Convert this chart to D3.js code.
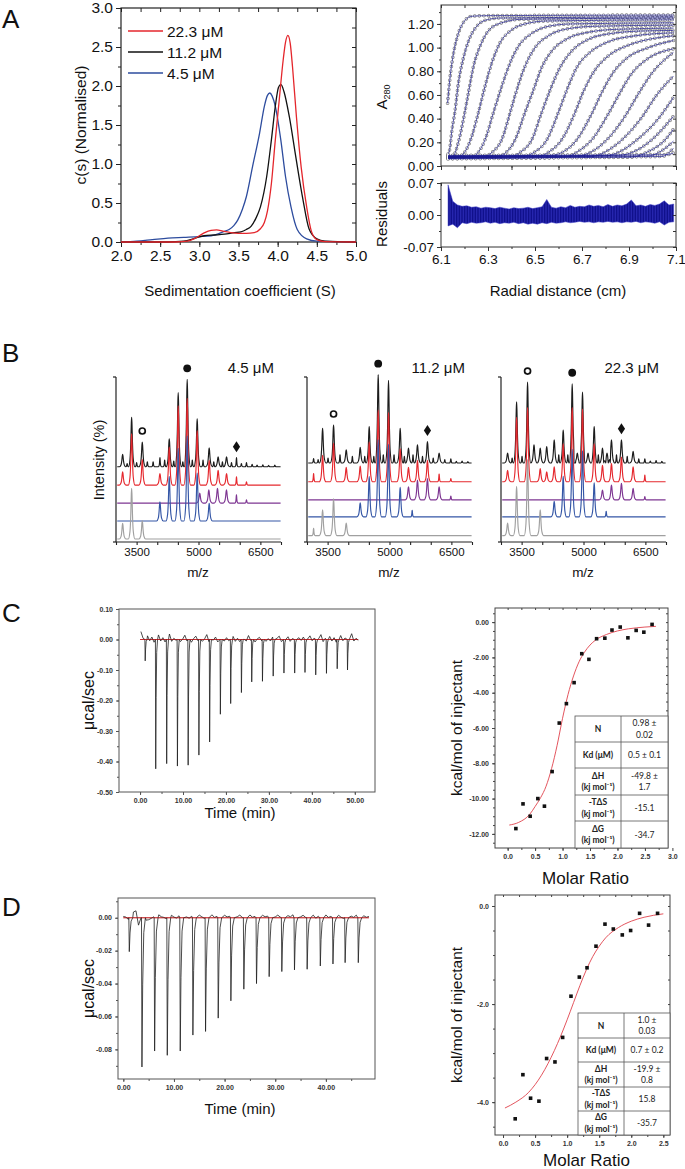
<!DOCTYPE html>
<html>
<head>
<meta charset="utf-8">
<script src="https://cdn.jsdelivr.net/npm/d3@7/dist/d3.min.js"></script>
<style>
  body { margin: 0; background: #fff; }
  svg { display: block; }
</style>
</head>
<body>
<div id="fig"></div>
<script>
const WIDTH = 685;
const HEIGHT = 1169;
const FONT = "'Liberation Sans', Arial, Helvetica, sans-serif";
const TABLE_FONT = "Lato, 'Open Sans', sans-serif";

// ---------- A: c(s) distributions [s, c(s)] ----------
const csLabels = ["22.3 μM", "11.2 μM", "4.5 μM"];
const cs22 = [[2.0,0],[2.7,0],[2.85,0.01],[2.95,0.05],[3.05,0.11],[3.15,0.15],[3.22,0.155],[3.3,0.14],[3.4,0.12],[3.5,0.11],[3.6,0.11],[3.7,0.12],[3.78,0.17],[3.83,0.25],[3.87,0.4],[3.92,0.75],[3.97,1.31],[4.02,1.82],[4.07,2.33],[4.1,2.56],[4.13,2.65],[4.16,2.55],[4.19,2.24],[4.24,1.6],[4.3,0.96],[4.37,0.45],[4.43,0.14],[4.5,0.03],[4.6,0.005],[5.0,0]];
const cs11 = [[2.0,0],[2.6,0],[2.8,0.01],[2.95,0.05],[3.06,0.08],[3.2,0.09],[3.32,0.1],[3.45,0.12],[3.53,0.13],[3.6,0.16],[3.66,0.2],[3.72,0.3],[3.78,0.45],[3.86,0.84],[3.92,1.31],[3.97,1.74],[4.01,1.98],[4.04,2.02],[4.08,1.93],[4.15,1.6],[4.23,1.1],[4.32,0.56],[4.4,0.17],[4.5,0.04],[4.6,0.01],[5.0,0]];
const cs4 = [[2.0,0],[2.2,0.01],[2.4,0.03],[2.6,0.05],[2.8,0.06],[3.0,0.07],[3.15,0.08],[3.23,0.1],[3.3,0.13],[3.38,0.16],[3.44,0.21],[3.49,0.28],[3.55,0.42],[3.6,0.58],[3.68,0.97],[3.77,1.4],[3.83,1.74],[3.87,1.88],[3.9,1.91],[3.93,1.87],[3.97,1.74],[4.04,1.31],[4.1,0.84],[4.17,0.45],[4.25,0.16],[4.37,0.04],[4.5,0.01],[5.0,0]];
const csXTicks = [2.0, 2.5, 3.0, 3.5, 4.0, 4.5, 5.0];
const csYTicks = [0, 0.5, 1.0, 1.5, 2.0, 2.5, 3.0];

// ---------- A: absorbance scans [r (cm), A280] ----------
const scans = [
  [[6.128,0.53],[6.138,0.74],[6.153,0.95],[6.174,1.12],[6.202,1.23],[6.231,1.265],[6.3,1.27],[7.09,1.275]],
  [[6.13,0.1],[6.137,0.14],[6.145,0.28],[6.16,0.47],[6.174,0.7],[6.195,0.91],[6.216,1.05],[6.252,1.18],[6.287,1.23],[6.35,1.25],[7.09,1.26]],
  [[6.13,0.07],[6.15,0.08],[6.174,0.2],[6.195,0.39],[6.216,0.61],[6.238,0.84],[6.266,1.01],[6.301,1.14],[6.358,1.21],[6.45,1.24],[7.09,1.25]],
  [[6.13,0.08],[6.18,0.085],[6.205,0.13],[6.231,0.25],[6.259,0.45],[6.287,0.67],[6.316,0.87],[6.351,1.04],[6.401,1.15],[6.457,1.2],[6.55,1.225],[7.09,1.235]],
  [[6.13,0.07],[6.235,0.08],[6.26,0.12],[6.287,0.22],[6.323,0.45],[6.358,0.67],[6.394,0.87],[6.429,1.01],[6.486,1.12],[6.557,1.18],[6.65,1.2],[7.09,1.21]],
  [[6.13,0.075],[6.29,0.085],[6.32,0.12],[6.358,0.22],[6.394,0.45],[6.422,0.64],[6.457,0.84],[6.5,1.0],[6.557,1.1],[6.642,1.16],[6.75,1.18],[7.09,1.19]],
  [[6.13,0.08],[6.345,0.085],[6.38,0.12],[6.415,0.22],[6.457,0.45],[6.493,0.64],[6.528,0.83],[6.571,0.97],[6.642,1.08],[6.727,1.13],[6.85,1.155],[7.09,1.165]],
  [[6.13,0.065],[6.4,0.08],[6.44,0.12],[6.486,0.22],[6.528,0.45],[6.564,0.64],[6.606,0.83],[6.656,0.97],[6.727,1.07],[6.826,1.12],[6.95,1.14],[7.09,1.145]],
  [[6.13,0.075],[6.457,0.085],[6.5,0.12],[6.55,0.22],[6.599,0.45],[6.635,0.64],[6.677,0.83],[6.734,0.96],[6.812,1.05],[6.926,1.1],[7.09,1.125]],
  [[6.13,0.07],[6.514,0.08],[6.56,0.12],[6.613,0.22],[6.67,0.45],[6.706,0.63],[6.755,0.81],[6.812,0.93],[6.897,1.02],[7.011,1.08],[7.09,1.1]],
  [[6.13,0.085],[6.571,0.09],[6.62,0.12],[6.677,0.22],[6.741,0.44],[6.784,0.62],[6.833,0.79],[6.89,0.91],[6.982,1.0],[7.089,1.06]],
  [[6.13,0.06],[6.628,0.075],[6.68,0.12],[6.741,0.22],[6.812,0.44],[6.862,0.62],[6.911,0.78],[6.975,0.9],[7.089,0.99]],
  [[6.13,0.08],[6.684,0.085],[6.74,0.12],[6.805,0.22],[6.883,0.42],[6.94,0.61],[6.996,0.78],[7.089,0.96]],
  [[6.13,0.07],[6.741,0.08],[6.8,0.12],[6.869,0.22],[6.954,0.41],[7.018,0.6],[7.089,0.76]],
  [[6.13,0.075],[6.798,0.085],[6.86,0.12],[6.933,0.22],[7.025,0.4],[7.089,0.58]],
  [[6.13,0.085],[6.855,0.09],[6.92,0.12],[6.996,0.22],[7.089,0.42]],
  [[6.13,0.065],[6.911,0.075],[6.98,0.12],[7.053,0.22],[7.089,0.31]],
  [[6.13,0.08],[6.982,0.085],[7.04,0.13],[7.089,0.21]],
  [[6.13,0.07],[7.039,0.08],[7.089,0.15]],
  [[6.13,0.09],[7.06,0.095],[7.089,0.11]]
];
// residual envelope
const resR = [6.13,6.15,6.17,6.19,6.21,6.23,6.25,6.27,6.29,6.31,6.33,6.35,6.37,6.39,6.41,6.43,6.45,6.47,6.49,6.51,6.53,6.55,6.57,6.59,6.61,6.63,6.65,6.67,6.69,6.71,6.73,6.75,6.77,6.79,6.81,6.83,6.85,6.87,6.89,6.91,6.93,6.95,6.97,6.99,7.01,7.03,7.05,7.07,7.09];
const resHi = [0.066,0.03,0.022,0.019,0.02,0.017,0.018,0.015,0.017,0.016,0.014,0.017,0.015,0.013,0.016,0.014,0.015,0.017,0.014,0.016,0.018,0.034,0.017,0.015,0.018,0.016,0.021,0.017,0.019,0.018,0.022,0.019,0.021,0.018,0.023,0.019,0.022,0.02,0.024,0.033,0.02,0.022,0.019,0.023,0.021,0.024,0.031,0.022,0.024];
const resLo = [-0.024,-0.02,-0.028,-0.017,-0.019,-0.016,-0.018,-0.017,-0.015,-0.018,-0.016,-0.019,-0.017,-0.018,-0.016,-0.019,-0.017,-0.02,-0.018,-0.02,-0.017,-0.019,-0.016,-0.018,-0.017,-0.015,-0.017,-0.016,-0.014,-0.016,-0.015,-0.017,-0.015,-0.016,-0.014,-0.016,-0.015,-0.017,-0.015,-0.016,-0.014,-0.017,-0.015,-0.016,-0.018,-0.015,-0.022,-0.016,-0.015];
const radTicks = [6.1, 6.3, 6.5, 6.7, 6.9, 7.1];
const absTicks = [0, 0.2, 0.4, 0.6, 0.8, 1.0, 1.2];
const resTicks = [-0.07, 0, 0.07];

// ---------- B: native MS, peaks [m/z, height %], one list per concentration ----------
const msConc = ["4.5 μM", "11.2 μM", "22.3 μM"];
const msBlack = [
  [[3161,7.5],[3270,2],[3379,30],[3500,2.5],[3637,15],[3760,3],[3900,3],[4065,5.5],[4180,4],[4291,17],[4400,3.5],[4508,45],[4620,3],[4726,53],[4850,4],[4968,29],[5110,4],[5259,11.5],[5370,3],[5476,6],[5580,3],[5680,6],[5800,2.5],[5921,5.5],[6040,2],[6163,2.5],[6300,1.5],[6420,1],[6560,1.2],[6700,0.8],[6850,1]],
  [[3160,2.6],[3270,2],[3378,21],[3510,3],[3644,23],[3800,5],[3951,8],[4100,4],[4290,9.5],[4400,4],[4508,22],[4620,4],[4726,53.5],[4850,5],[4976,50],[5110,5],[5259,21],[5360,4],[5460,9],[5570,5],[5678,11],[5800,4],[5920,13],[6060,3],[6203,6],[6340,2],[6487,2.5],[6620,1],[6760,1.2],[6900,0.8]],
  [[3160,6],[3270,3],[3378,37],[3510,4],[3644,49],[3800,11],[3951,9],[4108,10],[4290,14],[4400,5],[4508,20],[4620,5],[4726,48],[4850,6],[4976,43],[5110,6],[5259,22],[5360,5],[5460,9],[5570,6],[5678,14],[5800,5],[5920,14],[6060,4],[6203,7],[6340,2.5],[6487,2.5],[6620,1.2],[6760,1.5],[6900,1]]
];
const msRed = [
  [[3161,8],[3379,31],[3637,15.5],[4065,7],[4291,23],[4508,48],[4726,52.5],[4968,33],[5259,15],[5476,9],[5680,7],[5921,5],[6163,2]],
  [[3160,5],[3378,16],[3644,23.3],[3951,8.7],[4290,9.5],[4508,24],[4726,43.5],[4976,42],[5259,20],[5460,8.7],[5678,13],[5920,13],[6203,4.7],[6487,2]],
  [[3160,7],[3378,39],[3644,45],[3951,8],[4108,6],[4290,9],[4508,23],[4726,45],[4976,44],[5259,23],[5460,10],[5678,11],[5920,15],[6203,9],[6487,4]]
];
const msPurple = [
  [[5030,6],[5250,8],[5460,9],[5678,8],[5920,5],[6163,2]],
  [[5460,8],[5678,12],[5920,13],[6203,8],[6487,2.4]],
  [[5460,6],[5678,9],[5920,10],[6203,7],[6487,2]]
];
const msBlue = [
  [[4065,11.7],[4291,27],[4508,44],[4726,51.5],[4968,29],[5259,10.7]],
  [[4290,8.5],[4508,24.5],[4726,46.8],[4976,44],[5259,18],[5550,4]],
  [[4290,9.5],[4508,24.6],[4726,41],[4976,40],[5259,20.6],[5550,3.4]]
];
const msGray = [
  [[3161,9.5],[3379,30.7],[3637,11.1]],
  [[3160,4.4],[3378,15.6],[3644,22.2],[3951,7.5]],
  [[3160,7.5],[3378,29.7],[3644,46],[3951,15.6]]
];
const msMarkers = [["filled", 4726], ["open", 3644], ["diamond", 5920]];
const mzTicks = [3500, 5000, 6500];

// ---------- C: ITC, first titration ----------
const injCTime = [1.2,3.65,6.2,8.7,11.2,13.7,16.2,18.7,21.1,23.6,26.0,28.5,31.0,33.5,36.0,38.4,40.9,43.4,45.9,48.3];
const injCPeak = [-0.07,-0.424,-0.407,-0.415,-0.412,-0.379,-0.336,-0.245,-0.21,-0.174,-0.139,-0.137,-0.12,-0.11,-0.11,-0.108,-0.116,-0.111,-0.096,-0.1];
const noiseC = [0.026,0.004,-0.006,0.012,-0.004,0.008,-0.009,0.003,0.015,-0.005,
  0.006,-0.008,0.002,0.018,-0.006,0.004,-0.003,0.009,-0.007,0.001,
  0.014,-0.005,0.005,-0.009,0.003,0.011,-0.004,0.006,-0.006,0.002,
  0.016,-0.007,0.004,-0.002,0.008,-0.008,0.003,0.012,-0.005,0.006,
  -0.004,0.002,0.010,-0.006,0.004,-0.007,0.009,0.001,-0.005,0.013,
  -0.003,0.005,-0.008,0.002,0.007,-0.004,0.017,-0.006,0.003,-0.005,
  0.008,-0.003,0.004,0.011,-0.007,0.002,-0.004,0.009,-0.006,0.003,
  0.014,-0.005,0.006,-0.003,0.008,-0.008,0.002,0.012,-0.004,0.005,
  -0.006,0.003,0.016,-0.007,0.004,-0.002,0.010,-0.005,0.006,-0.009,
  0.003,0.013,-0.004,0.005,-0.006,0.002,0.019,-0.005,0.004,-0.003];
const molarC = [0.15,0.28,0.41,0.55,0.67,0.81,0.94,1.07,1.21,1.35,1.48,1.62,1.77,1.9,2.05,2.19,2.34,2.48,2.63];
const heatC = [-11.7,-10.3,-11.0,-10.0,-10.43,-8.47,-5.72,-4.62,-3.43,-1.79,-2.11,-0.94,-0.91,-0.45,-0.28,-0.89,-0.47,-0.57,-0.13];
const fitCX = [0.03,0.2,0.4,0.5,0.6,0.7,0.8,0.9,1.0,1.1,1.2,1.3,1.4,1.5,1.6,1.8,2.0,2.2,2.5,2.7];
const fitCY = [-11.5,-11.35,-10.9,-10.45,-9.95,-9.3,-8.3,-7.0,-5.45,-4.1,-3.05,-2.25,-1.7,-1.3,-1.02,-0.7,-0.5,-0.38,-0.28,-0.24];
const tableLabels = [["N"], ["Kd (μM)"], ["ΔH", "(kj mol⁻¹)"], ["-TΔS", "(kj mol⁻¹)"], ["ΔG", "(kj mol⁻¹)"]];
const tableC = [["0.98 ±", "0.02"], ["0.5 ± 0.1"], ["-49.8 ±", "1.7"], ["-15.1"], ["-34.7"]];

// ---------- D: ITC, second titration ----------
const injDTime = [1.18,3.68,6.18,8.68,11.24,13.74,16.24,18.74,21.24,23.8,26.3,28.8,31.3,33.8,36.3,38.9,41.4,43.8,46.4];
const injDPeak = [-0.0206,-0.0907,-0.081,-0.0836,-0.081,-0.0713,-0.0691,-0.061,-0.0505,-0.0434,-0.04,-0.0358,-0.0327,-0.0317,-0.0313,-0.0293,-0.0281,-0.0273,-0.0273];
const noiseD = [0.0008,0.0004,-0.001,-0.0006,0.0035,0.0042,-0.0045,0.0,-0.0008,-0.0015,
  -0.0012,-0.0004,0.0006,0.001,0.0018,0.0006,0.0002,-0.0006,0.0008,0.0015,
  0.0004,-0.0002,0.0012,0.0004,0.0017,0.0005,-0.0003,0.0009,0.0014,0.0003,
  0.0016,0.0006,-0.0004,0.0011,0.0004,0.0018,0.0002,0.0008,0.0013,0.0001,
  0.0015,0.0005,0.0009,0.0003,0.0014,0.0006,0.0016,0.0002,0.001,0.0004,
  0.0017,0.0003,0.0008,0.0012,0.0002,0.0015,0.0006,0.001,0.0003,0.0014,
  0.0005,0.0016,0.0004,0.0009,0.0002,0.0013,0.0006,0.0018,0.0003,0.001,
  0.0005,0.0015,0.0002,0.0011,0.0007,0.0016,-0.0003,0.0009,0.0014,0.0004,
  0.0017,0.0002,0.0008,0.0012,0.0005,0.0015,0.0003,-0.0004,0.0013,0.0006,
  0.001,0.0002,0.0016,0.0004,0.0009,0.0012,0.0003,0.0008];
const molarD = [0.19,0.31,0.43,0.56,0.68,0.81,0.93,1.06,1.19,1.31,1.45,1.59,1.72,1.86,1.99,2.13,2.27,2.41];
const heatD = [-4.34,-3.44,-3.92,-3.98,-3.11,-3.18,-2.68,-1.84,-1.45,-1.26,-0.82,-0.37,-0.47,-0.59,-0.5,-0.15,-0.39,-0.15];
const fitDX = [0.03,0.2,0.4,0.6,0.8,0.9,1.0,1.1,1.2,1.3,1.4,1.5,1.6,1.8,2.0,2.2,2.5];
const fitDY = [-4.12,-4.0,-3.8,-3.45,-2.95,-2.65,-2.32,-1.97,-1.62,-1.3,-1.03,-0.82,-0.65,-0.44,-0.31,-0.23,-0.16];
const tableD = [["1.0 ±", "0.03"], ["0.7 ± 0.2"], ["-19.9 ±", "0.8"], ["15.8"], ["-35.7"]];


const fmt = d3.formatLocale({decimal: ".", thousands: ",", grouping: [3], currency: ["", ""], minus: "-"}).format;
const steps = (a, b, s) => d3.range(a, b + s / 2, s).map(v => +v.toFixed(4));

const svg = d3.select("#fig").append("svg")
  .attr("xmlns", "http://www.w3.org/2000/svg")
  .attr("width", WIDTH)
  .attr("height", HEIGHT)
  .attr("viewBox", `0 0 ${WIDTH} ${HEIGHT}`)
  .style("font-family", FONT);

svg.append("rect").attr("width", WIDTH).attr("height", HEIGHT).attr("fill", "#fff");

function label(g, txt, x, y, size, opts = {}) {
  const t = g.append("text")
    .attr("x", x).attr("y", y)
    .attr("font-size", size)
    .attr("text-anchor", opts.anchor || "middle")
    .attr("fill", opts.fill || "#111")
    .text(txt);
  if (opts.rotate) t.attr("transform", `rotate(-90,${x},${y})`);
  if (opts.weight) t.attr("font-weight", opts.weight);
  if (opts.family) t.attr("font-family", opts.family);
  return t;
}

// box with outward major/minor ticks on left+bottom, inward ticks on top+right
function frame(g, x, y, o) {
  const [L, R] = x.range();
  const [B, T] = y.range();
  const col = o.color || "#222";
  const put = (axis, vals, size, format, tr, pad) => {
    if (!vals) return;
    const a = g.append("g").attr("transform", tr)
      .call(axis.tickValues(vals).tickSizeInner(size).tickSizeOuter(0).tickPadding(pad)
        .tickFormat(format || (() => "")));
    a.select(".domain").remove();
    a.selectAll(".tick line").attr("stroke", col).attr("stroke-width", o.tw || 1);
    a.selectAll(".tick text")
      .attr("font-size", o.fs).attr("fill", o.tc || "#111")
      .attr("font-weight", o.fw || "normal").attr("font-family", FONT);
  };
  put(d3.axisBottom(x), o.xMinor, o.minor, null, `translate(0,${B})`, 0);
  put(d3.axisBottom(x), o.xMajor, o.major, o.xFmt, `translate(0,${B})`, o.pad);
  put(d3.axisLeft(y), o.yMinor, o.minor, null, `translate(${L},0)`, 0);
  put(d3.axisLeft(y), o.yMajor, o.major, o.yFmt, `translate(${L},0)`, o.pad);
  if (o.inner) {
    put(d3.axisTop(x), o.xMinor || o.xMajor, -o.inner, null, `translate(0,${T})`, 0);
    put(d3.axisRight(y), o.yMinor || o.yMajor, -o.inner, null, `translate(${R},0)`, 0);
  }
  g.append("rect")
    .attr("x", L).attr("y", T).attr("width", R - L).attr("height", B - T)
    .attr("fill", "none").attr("stroke", col).attr("stroke-width", o.bw || 1);
}

// ---------- panel letters ----------
[["A", 28], ["B", 362], ["C", 622], ["D", 916]].forEach(([t, y]) =>
  label(svg, t, 2, y, 26, {anchor: "start"}));


// ================= A left: c(s) =================
{
  const g = svg.append("g");
  const x = d3.scaleLinear([2, 5], [121, 356]);
  const y = d3.scaleLinear([0, 3], [242, 8]);
  frame(g, x, y, {
    xMajor: csXTicks, xMinor: steps(2, 5, 0.25), yMajor: csYTicks, yMinor: steps(0, 3, 0.25),
    xFmt: fmt(".1f"), yFmt: fmt(".1f"), fs: 15.5, major: 5, minor: 3, inner: 4, pad: 3, bw: 1.2
  });
  const line = d3.line().x(d => x(d[0])).y(d => y(d[1])).curve(d3.curveMonotoneX);
  const colors = ["#e4262c", "#111111", "#2d4c9e"];
  [cs4, cs11, cs22].forEach((s, i) => {
    g.append("path").datum(s).attr("d", line).attr("fill", "none")
      .attr("stroke", colors[2 - i]).attr("stroke-width", 1.3);
  });
  csLabels.forEach((t, i) => {
    const yy = 31 + i * 21;
    g.append("line").attr("x1", 128).attr("x2", 163).attr("y1", yy).attr("y2", yy)
      .attr("stroke", colors[i]).attr("stroke-width", 1.3);
    label(g, t, 167, yy + 5.5, 15.5, {anchor: "start"});
  });
  label(g, "Sedimentation coefficient (S)", 240, 296, 15);
  label(g, "c(s) (Normalised)", 86, 125, 15.5, {rotate: true});
}

// ================= A right: scans + residuals =================
{
  const g = svg.append("g");
  const x = d3.scaleLinear([6.1, 7.1], [441, 676]);
  const y = d3.scaleLinear([0, 1.36], [166, 5]);
  const yr = d3.scaleLinear([-0.07, 0.07], [247, 183]);

  g.append("clipPath").attr("id", "scanclip").append("rect")
    .attr("x", 441).attr("y", 5).attr("width", 235).attr("height", 161);
  const sg = g.append("g").attr("clip-path", "url(#scanclip)");
  const line = d3.line().x(d => x(d[0])).y(d => y(d[1])).curve(d3.curveMonotoneX);

  // open circles along each scan, then the fitted line
  sg.selectAll(".ringOut").data(scans).join("path").attr("d", line)
    .attr("fill", "none").attr("stroke", "#7c7c7c").attr("stroke-width", 3.6)
    .attr("stroke-linecap", "round").attr("stroke-dasharray", "0 4.6");
  sg.selectAll(".ringIn").data(scans).join("path").attr("d", line)
    .attr("fill", "none").attr("stroke", "#fff").attr("stroke-width", 2.2)
    .attr("stroke-linecap", "round").attr("stroke-dasharray", "0 4.6");
  sg.selectAll(".fit").data(scans).join("path").attr("d", line)
    .attr("fill", "none").attr("stroke", "#1a1a90").attr("stroke-width", 0.7);

  frame(g, x, y, {
    xMinor: steps(6.1, 7.1, 0.1), xMajor: steps(6.1, 7.1, 0.1), xFmt: () => "",
    yMajor: absTicks, yMinor: steps(0, 1.3, 0.1), yFmt: fmt(".2f"),
    fs: 13.5, major: 4, minor: 2, inner: 3, pad: 3, color: "#333"
  });

  // residual band
  const pat = g.append("pattern").attr("id", "noise").attr("patternUnits", "userSpaceOnUse")
    .attr("width", 1.6).attr("height", 4);
  pat.append("rect").attr("width", 1.6).attr("height", 4).attr("fill", "#2a2ab4");
  pat.append("rect").attr("width", 0.8).attr("height", 4).attr("fill", "#0c0c86");
  const area = d3.area().x((d, i) => x(resR[i])).y0((d, i) => yr(resLo[i])).y1((d, i) => yr(resHi[i]));
  g.append("path").datum(resR).attr("d", area).attr("fill", "url(#noise)")
    .attr("stroke", "#3a3ac4").attr("stroke-width", 0.5);

  frame(g, x, yr, {
    xMajor: radTicks, xMinor: steps(6.1, 7.1, 0.1), xFmt: fmt(".1f"),
    yMajor: resTicks, yMinor: steps(-0.07, 0.07, 0.035), yFmt: fmt(".2f"),
    fs: 13.5, major: 4, minor: 2, inner: 3, pad: 3, color: "#333"
  });

  const a = g.append("text").attr("transform", "translate(387,97) rotate(-90)")
    .attr("text-anchor", "middle").attr("font-size", 15).attr("fill", "#111");
  a.append("tspan").text("A");
  a.append("tspan").attr("font-size", 9).attr("dy", 3).text("280");
  label(g, "Residuals", 387, 214, 15, {rotate: true});
  label(g, "Radial distance (cm)", 558, 296, 15);
}

// ================= B: mass spectra =================
{
  const yMs = d3.scaleLinear([0, 100], [542, 377]);
  const msLeft = [116, 307, 501];
  const msOffsets = [[45.6, 34.5, 23.6, 12.7, 1.8], [47.9, 36.5, 25.5, 15.2, 3.9], [47.9, 36.5, 25.5, 15.2, 3.9]];
  const msColors = ["#1c1c1c", "#e5282e", "#7e3692", "#3456a6", "#a0a0a0"];

  // each listed peak drawn as a rounded bell between baseline points
  const peakPoints = (peaks) => {
    const pts = [[3030, 0], [6990, 0]];
    peaks.forEach(([m, h]) => {
      const w = h < 6 ? 36 : 80;
      pts.push([m - w, 0], [m - w * 0.5, h * 0.15], [m - w * 0.25, h * 0.5], [m - w * 0.1, h * 0.88], [m, h],
        [m + w * 0.1, h * 0.88], [m + w * 0.25, h * 0.5], [m + w * 0.5, h * 0.15], [m + w, 0]);
    });
    return pts.sort((a, b) => a[0] - b[0]);
  };

  msConc.forEach((conc, i) => {
    const g = svg.append("g");
    const L = msLeft[i];
    const x = d3.scaleLinear([3000, 7000], [L, L + 165]);
    const traces = [msBlack[i], msRed[i], msPurple[i], msBlue[i], msGray[i]];

    traces.forEach((peaks, j) => {
      const off = msOffsets[i][j];
      const line = d3.line().x(d => x(d[0])).y(d => yMs(off + d[1])).curve(d3.curveMonotoneX);
      g.append("path").datum(peakPoints(peaks)).attr("d", line)
        .attr("fill", "none").attr("stroke", msColors[j]).attr("stroke-width", 1.15)
        .attr("stroke-linejoin", "round");
    });

    // axes
    g.append("line").attr("x1", L).attr("x2", L).attr("y1", yMs(100)).attr("y2", yMs(0))
      .attr("stroke", "#222").attr("stroke-width", 1.2);
    g.append("line").attr("x1", L).attr("x2", L + 165).attr("y1", yMs(0)).attr("y2", yMs(0))
      .attr("stroke", "#222").attr("stroke-width", 1.2);
    [0, 100].forEach(v => g.append("line").attr("x1", L - 3).attr("x2", L)
      .attr("y1", yMs(v)).attr("y2", yMs(v)).attr("stroke", "#222").attr("stroke-width", 1.2));
    const ax = g.append("g").attr("transform", `translate(0,${yMs(0)})`)
      .call(d3.axisBottom(x).tickValues(steps(3000, 7000, 500)).tickSizeInner(3).tickSizeOuter(0)
        .tickFormat(v => mzTicks.includes(v) ? v : ""));
    ax.select(".domain").remove();
    ax.selectAll(".tick line").attr("stroke", "#222").attr("stroke-width", 1.1);
    ax.selectAll(".tick text").attr("font-size", 11.5).attr("font-family", FONT).attr("fill", "#111");

    label(g, "m/z", L + 82, 577, 13.5);
    label(g, conc, L + 158, 373, 15, {anchor: "end"});

    // peak markers above the black trace
    msMarkers.forEach(([type, mz]) => {
      const pk = msBlack[i].reduce((a, b) => Math.abs(b[0] - mz) < Math.abs(a[0] - mz) ? b : a);
      const cx = x(pk[0]);
      const cy = yMs(msOffsets[i][0] + pk[1]) - 11;
      if (type === "filled") g.append("circle").attr("cx", cx).attr("cy", cy).attr("r", 3.9).attr("fill", "#111");
      if (type === "open") g.append("circle").attr("cx", cx).attr("cy", cy).attr("r", 3).attr("fill", "none")
        .attr("stroke", "#111").attr("stroke-width", 1.7);
      if (type === "diamond") g.append("path").attr("d", `M${cx},${cy - 5.5}L${cx + 3.6},${cy}L${cx},${cy + 5.5}L${cx - 3.6},${cy}Z`)
        .attr("fill", "#111");
    });
  });
  label(svg, "Intensity (%)", 104, 460, 14.5, {rotate: true});
}

// ================= C & D: ITC =================
function itcTrace(times, peaks, noise, t0, t1, win) {
  const step = (t1 - t0) / (noise.length - 1);
  const pts = [];
  noise.forEach((v, i) => {
    const t = t0 + i * step;
    if (!times.some(ti => t > ti - win[0] && t < ti + win[1])) pts.push([t, v]);
  });
  times.forEach((ti, i) => {
    const d = peaks[i];
    pts.push([ti - win[0] * 0.6, 0], [ti, d], [ti + win[1] * 0.18, d * 0.45],
      [ti + win[1] * 0.45, d * 0.1], [ti + win[1] * 0.85, 0]);
  });
  return pts.sort((a, b) => a[0] - b[0]);
}

function drawRaw(x, y, times, peaks, noise, t0, t1, win, yTicks, yMinor, xTicks, yFmt, labelY) {
  const g = svg.append("g");
  frame(g, x, y, {
    xMajor: xTicks, xMinor: steps(0, d3.max(xTicks) + 5, 5).filter(v => v <= x.domain()[1]),
    yMajor: yTicks, yMinor: yMinor, xFmt: fmt(".2f"), yFmt: yFmt,
    fs: 7, fw: "bold", tc: "#333", major: 3, minor: 2, pad: 3, color: "#555"
  });
  g.append("line").attr("x1", x(0)).attr("x2", x(t1)).attr("y1", y(0)).attr("y2", y(0))
    .attr("stroke", "#c8282c").attr("stroke-width", 1.1);
  const line = d3.line().x(d => x(d[0])).y(d => y(d[1]));
  g.append("path").datum(itcTrace(times, peaks, noise, t0, t1, win)).attr("d", line)
    .attr("fill", "none").attr("stroke", "#1e1e1e").attr("stroke-width", 0.8).attr("stroke-linejoin", "round");
  g.append("line").attr("x1", x(0)).attr("x2", x(t1)).attr("y1", y(0)).attr("y2", y(0))
    .attr("stroke", "#c8282c").attr("stroke-width", 0.6).attr("stroke-opacity", 0.7);
  label(g, "μcal/sec", 94, (y.range()[0] + y.range()[1]) / 2, 16, {rotate: true});
  label(g, "Time (min)", 240, labelY, 15);
}

function drawIsotherm(x, y, mx, hy, fx, fy, vals, yTicks, yMinor, yFmt, rows, tx, labelY) {
  const g = svg.append("g");
  frame(g, x, y, {
    xMajor: steps(0, 3, 0.5).filter(v => v <= x.domain()[1] + 0.08),
    xMinor: steps(-0.25, 3, 0.25).filter(v => v >= x.domain()[0] && v <= x.domain()[1]),
    yMajor: yTicks, yMinor: yMinor, xFmt: fmt(".1f"), yFmt: yFmt,
    fs: 7, fw: "bold", tc: "#333", major: 3, minor: 2, inner: 2, pad: 3, color: "#444"
  });
  const line = d3.line().x(d => x(d[0])).y(d => y(d[1])).curve(d3.curveMonotoneX);
  g.append("path").datum(fx.map((v, i) => [v, fy[i]])).attr("d", line)
    .attr("fill", "none").attr("stroke", "#e0424c").attr("stroke-width", 0.9);
  g.selectAll(".pt").data(mx).join("rect")
    .attr("x", (d, i) => x(d) - 1.8).attr("y", (d, i) => y(hy[i]) - 1.8)
    .attr("width", 3.6).attr("height", 3.6).attr("fill", "#111");

  // results table
  const [x0, xm, x1] = tx;
  const tg = g.append("g").attr("font-family", TABLE_FONT);
  tg.append("rect").attr("x", x0).attr("y", rows[0]).attr("width", x1 - x0).attr("height", rows[5] - rows[0])
    .attr("fill", "#fff").attr("stroke", "#555").attr("stroke-width", 0.8);
  rows.slice(1, 5).forEach(r => tg.append("line").attr("x1", x0).attr("x2", x1).attr("y1", r).attr("y2", r)
    .attr("stroke", "#555").attr("stroke-width", 0.8));
  tg.append("line").attr("x1", xm).attr("x2", xm).attr("y1", rows[0]).attr("y2", rows[5])
    .attr("stroke", "#555").attr("stroke-width", 0.8);
  const cell = (lines, cx, r, bold) => {
    const mid = (rows[r] + rows[r + 1]) / 2;
    lines.forEach((t, k) => {
      const yy = mid + 3 + (k - (lines.length - 1) / 2) * 11.5;
      const e = tg.append("text").attr("x", cx).attr("y", yy).attr("text-anchor", "middle")
        .attr("font-size", 8.5).attr("fill", "#222").text(t);
      if (bold) e.attr("font-weight", "bold");
    });
  };
  tableLabels.forEach((l, r) => cell(l, (x0 + xm) / 2, r, true));
  vals.forEach((v, r) => cell(v, (xm + x1) / 2, r, false));

  label(g, "kcal/mol of injectant", 462, (y.range()[0] + y.range()[1]) / 2, 15.5, {rotate: true});
  label(g, "Molar Ratio", (x.range()[0] + x.range()[1]) / 2 + 4, labelY, 17);
}

drawRaw(d3.scaleLinear([-4.9, 54.7], [119, 375]), d3.scaleLinear([-0.5, 0.1], [792, 609]),
  injCTime, injCPeak, noiseC, 0.2, 50.8, [0.12, 0.5],
  steps(-0.5, 0.1, 0.1), steps(-0.5, 0.1, 0.05), [0, 10, 20, 30, 40, 50], fmt(".2f"), 818);

drawIsotherm(d3.scaleLinear([-0.23, 2.92], [495, 668]), d3.scaleLinear([-12.8, 0.8], [848, 608]),
  molarC, heatC, fitCX, fitCY, tableC, steps(-12, 0, 2), steps(-12.5, 0.5, 0.5), fmt(".2f"),
  [716, 742, 768, 795, 821, 848], [575, 621, 668], 884);

drawRaw(d3.scaleLinear([-1.05, 49.7], [118, 375]), d3.scaleLinear([-0.098, 0.012], [1079, 898]),
  injDTime, injDPeak, noiseD, 0, 48.5, [0.15, 0.8],
  steps(-0.08, 0, 0.02), steps(-0.09, 0.01, 0.01), [0, 10, 20, 30, 40], fmt(".2f"), 1114);

drawIsotherm(d3.scaleLinear([-0.125, 2.604], [495, 670]), d3.scaleLinear([-4.67, 0.224], [1135, 895]),
  molarD, heatD, fitDX, fitDY, tableD, [-4, -2, 0], steps(-4.5, 0, 0.5), fmt(".1f"),
  [1013, 1038, 1062, 1087, 1111, 1135], [578, 624, 670], 1166);
</script>
</body>
</html>
